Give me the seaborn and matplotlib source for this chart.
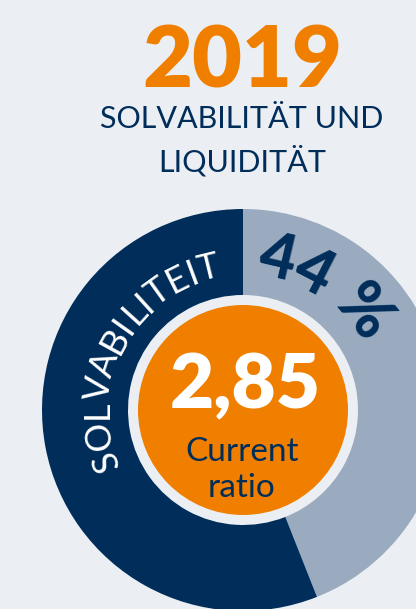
import numpy as np
import matplotlib.pyplot as plt
import seaborn as sns
from matplotlib.textpath import TextPath
from matplotlib.font_manager import FontProperties

# chart content
year = "2019"
title_lines = ["SOLVABILITÄT UND", "LIQUIDITÄT"]
ring_values = [44, 56]              # solvabiliteit share vs rest, in %
ring_labels = ["44 %", "SOLVABILITEIT"]
center_value = "2,85"
center_lines = ["Current", "ratio"]

BG = "#ebeff3"
NAVY = "#002d5a"
LIGHT = "#9aabbf"
ORANGE = "#f07f00"
FONT = ["Lato", "DejaVu Sans"]

sns.set_theme(style="white", rc={"figure.facecolor": BG, "axes.facecolor": BG,
                                 "savefig.facecolor": BG})
plt.rcParams["font.family"] = FONT

W, H, DPI = 416, 609, 100
fig = plt.figure(figsize=(W / DPI, H / DPI), dpi=DPI)
ax = fig.add_axes([0, 0, 1, 1])

# donut geometry in pixels (y up)
cx, cy = 243, H - 410
R, r_in, r_core = 201, 115, 105

ax.pie(ring_values, colors=[LIGHT, NAVY], startangle=90, counterclock=False,
       radius=R, center=(cx, cy),
       wedgeprops=dict(width=R - r_in, linewidth=0))
ax.add_patch(plt.Circle((cx, cy), r_core, color=ORANGE, lw=0))

ax.set_xlim(0, W)
ax.set_ylim(0, H)
ax.set_aspect("equal")
ax.axis("off")


def arc_text(text, theta_mid, r_base, size_pt, color, weight="normal", tracking=0.0):
    """Lay text clockwise along a circle, letter tops pointing outward."""
    fp = FontProperties(family=FONT, weight=weight, size=size_pt)
    px = size_pt * DPI / 72
    r_mid = r_base + 0.36 * px
    chars, centers = [], []
    for i, ch in enumerate(text):
        if ch == " ":
            continue
        full = TextPath((0, 0), text[:i + 1], size=px, prop=fp).get_extents()
        own = TextPath((0, 0), ch, size=px, prop=fp).get_extents()
        chars.append(ch)
        centers.append(full.x1 - own.width / 2 + i * tracking)
    mid = (centers[0] + centers[-1]) / 2
    for ch, c in zip(chars, centers):
        phi = theta_mid - np.degrees((c - mid) / r_mid)
        t = np.radians(phi)
        ax.text(cx + r_base * np.cos(t), cy + r_base * np.sin(t), ch,
                rotation=phi - 90, rotation_mode="anchor", ha="center",
                va="baseline", fontsize=size_pt, color=color, fontweight=weight)


arc_text(ring_labels[1], 152, 135, 26, "white", weight="normal", tracking=1.5)
arc_text(ring_labels[0], 58, 136, 45, NAVY, weight="black", tracking=3.0)

# titles
ax.text(242, H - 88, year, ha="center", va="baseline", fontsize=62,
        fontweight="heavy", color=ORANGE)
ax.text(242, H - 128, title_lines[0], ha="center", va="baseline", fontsize=22,
        color=NAVY)
ax.text(242, H - 171, title_lines[1], ha="center", va="baseline", fontsize=22,
        color=NAVY)

# centre
ax.text(245, H - 408, center_value, ha="center", va="baseline", fontsize=55,
        fontweight="heavy", color="white")
ax.text(242, H - 461, center_lines[0], ha="center", va="baseline", fontsize=24,
        color=NAVY)
ax.text(242, H - 497, center_lines[1], ha="center", va="baseline", fontsize=24,
        color=NAVY)

fig.savefig("out.png", dpi=DPI, facecolor=BG)
